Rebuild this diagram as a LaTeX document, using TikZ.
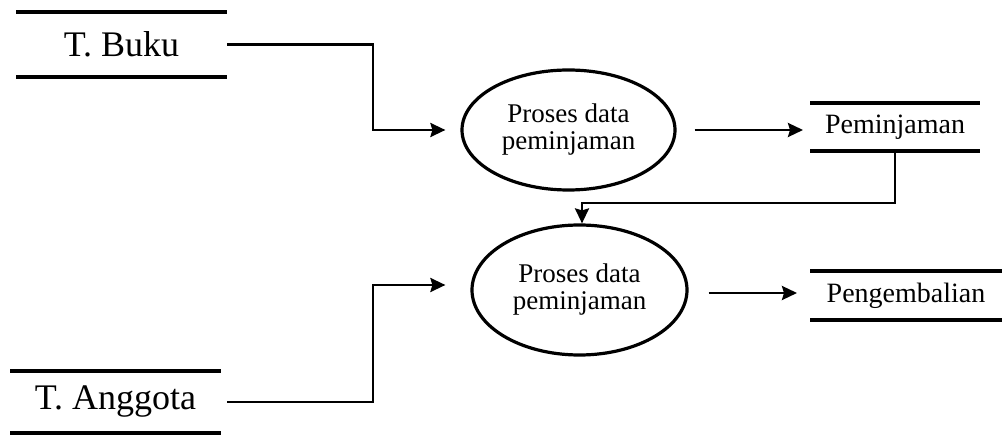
\documentclass[tikz,border=0pt]{standalone}
\usepackage{fontspec}
\setmainfont{Liberation Serif}
\usetikzlibrary{shapes,positioning,arrows.meta,calc}

\begin{document}
\begin{tikzpicture}[
    x=1pt, y=-1pt,
    store/.style={
        rectangle, inner sep=0pt, outer sep=0pt,
    },
    big/.style={font=\fontsize{36}{40}\selectfont},
    small/.style={font=\fontsize{28}{30}\selectfont},
    proc/.style ={
        ellipse, draw, line width=3.2pt, inner sep=0pt, align=center,
        font=\fontsize{27}{27}\selectfont,
    },
    flow/.style={line width=2.6pt, -{Stealth[length=15pt,width=14pt,inset=2pt]}},
    ]
    \useasboundingbox (0,0) rectangle (1002,435);

    \node[store,big,minimum width=211pt,minimum height=65pt] (buku) at (121.5,44.5) {T. Buku};
    \node[store,big,minimum width=211pt,minimum height=62pt] (anggota) at (115.5,402) {T. Anggota};
    \node[proc,minimum width=213pt,minimum height=120pt] (p1) at (568.5,130) {Proses data\\peminjaman};
    \node[proc,minimum width=215pt,minimum height=130pt] (p2) at (579.5,290) {Proses data\\peminjaman};
    \node[store,small,minimum width=170pt,minimum height=48pt] (pinjam) at (895,127) {Peminjaman};
    \node[store,small,minimum width=192pt,minimum height=49pt] (kembali) at (906,295.5) {Pengembalian};

    \foreach \s in {buku,anggota,pinjam,kembali}
        \draw[line width=3.5pt] (\s.north west) -- (\s.north east) (\s.south west) -- (\s.south east);

    \draw[flow] (buku.east) -- ++(146,0) |- ([xshift=-15pt]p1.west);
    \draw[flow] ([xshift=18pt]p1.east) -- ($(pinjam.west |- p1.east)+(-7,0)$);
    \draw[flow] (pinjam.south) -- ++(0,52) -| ($(p2.north)+(2.5,0)$);
    \draw[flow] ([xshift=6pt]anggota.east) -- ++(146,0) |- ($(p2.west)+(-25,-5)$);
    \draw[flow] ($(p2.east)+(20,3)$) -- ($(kembali.west |- p2.east)+(-13,3)$);

\end{tikzpicture}
\end{document}
